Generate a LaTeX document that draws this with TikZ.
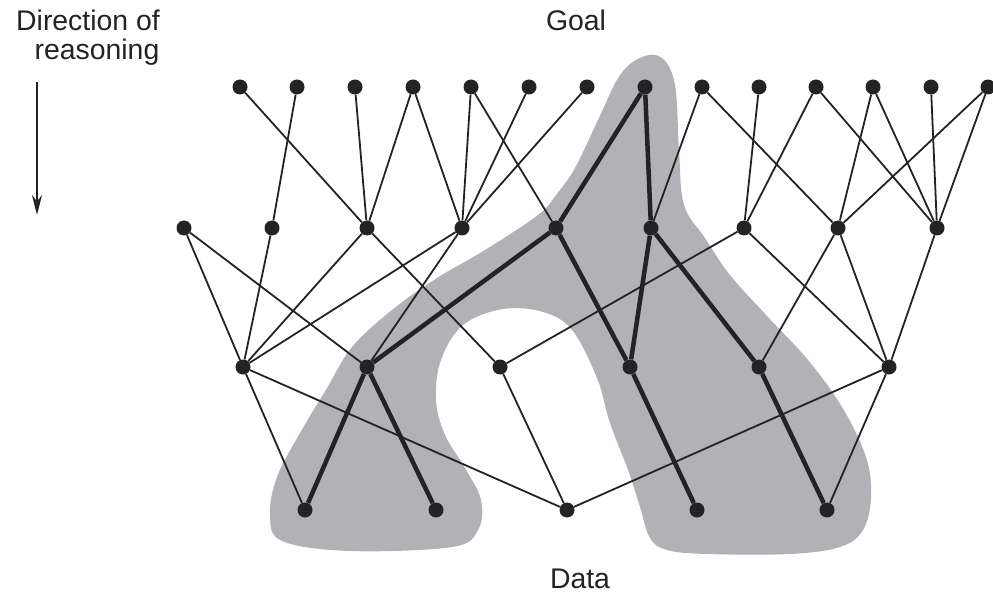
\documentclass[tikz,border=0pt]{standalone}
\usepackage{fontspec}
\setmainfont{Liberation Sans}
\usetikzlibrary{arrows.meta}
\definecolor{ink}{RGB}{35,35,38}
\definecolor{blobgray}{RGB}{178,178,182}
\tikzset{
  dot/.style={circle,fill=ink,draw=none,inner sep=0pt,minimum size=15bp},
  thin edge/.style={draw=ink,line width=1.8bp},
  bold edge/.style={draw=ink,line width=4.5bp},
  lab/.style={text=ink,font=\fontsize{28.5}{32}\selectfont,inner sep=0pt}
}
\begin{document}
\begin{tikzpicture}[x=1bp,y=-1bp]
\useasboundingbox (0,0) rectangle (993,593);
% grey region
\fill[blobgray] plot[smooth cycle,tension=0.6] coordinates {
 (282,541) (270,515) (277,477) (300,433) (327,388) (352,347) (392,310)
 (437,278) (485,250) (538,215) (556,195) (575,168) (598,120) (620,75)
 (642,57) (662,58) (675,85) (679,150) (684,205) (705,238) (730,275)
 (768,317) (808,360) (842,407) (866,457) (871,497) (863,530) (840,547)
 (790,554) (707,554) (667,550) (650,538) (640,507) (628,470) (610,423)
 (597,378) (572,330) (543,312) (503,309) (463,325) (441,360) (436,400)
 (445,435) (465,468) (481,500) (478,530) (452,547) (350,551)};
% labels
\node[lab] (dir1) at (88,20) {Direction of};
\node[lab] (dir2) at (97,52) {reasoning};
\node[lab] (goal) at (576,20) {Goal};
\node[lab] (data) at (580,579) {Data};
\coordinate (arA) at (37,82);
\coordinate (arB) at (37,215);
\draw[draw=ink,line width=1.8bp,-{Stealth[length=20bp,width=10bp]}] (arA) -- (arB);
% nodes
\foreach \n/\x in {1/240,2/297,3/355,4/413,5/471,6/529,7/587,8/645,9/702,10/759,11/816,12/873,13/931,14/988}
  \node[dot] (T\n) at (\x,87) {};
\foreach \n/\x in {1/184,2/272,3/367,4/462,5/556,6/651,7/744,8/838,9/937}
  \node[dot] (M\n) at (\x,228) {};
\foreach \n/\x in {1/243,2/367,3/500,4/630,5/759,6/889}
  \node[dot] (L\n) at (\x,367) {};
\foreach \n/\x in {1/305,2/436,3/567,4/697,5/827}
  \node[dot] (B\n) at (\x,510) {};
% thin connectors
\foreach \a/\b in {T1/M3,T2/M2,T3/M3,T4/M3,T4/M4,T5/M4,T5/M5,T6/M4,T7/M4,
  T9/M6,T9/M8,T10/M7,T11/M7,T11/M9,T12/M8,T12/M9,T13/M9,T14/M8,T14/M9,
  M1/L1,M1/L2,M2/L1,M3/L1,M3/L3,M4/L1,M4/L2,M7/L3,M7/L6,M8/L5,M8/L6,M9/L6,
  L1/B1,L1/B3,L3/B3,L6/B3,L6/B5}
  \draw[thin edge] (\a) -- (\b);
% bold connectors
\foreach \a/\b in {T8/M5,T8/M6,M5/L2,M5/L4,M6/L4,M6/L5,L2/B1,L2/B2,L4/B4,L5/B5}
  \draw[bold edge] (\a) -- (\b);
\end{tikzpicture}
\end{document}
